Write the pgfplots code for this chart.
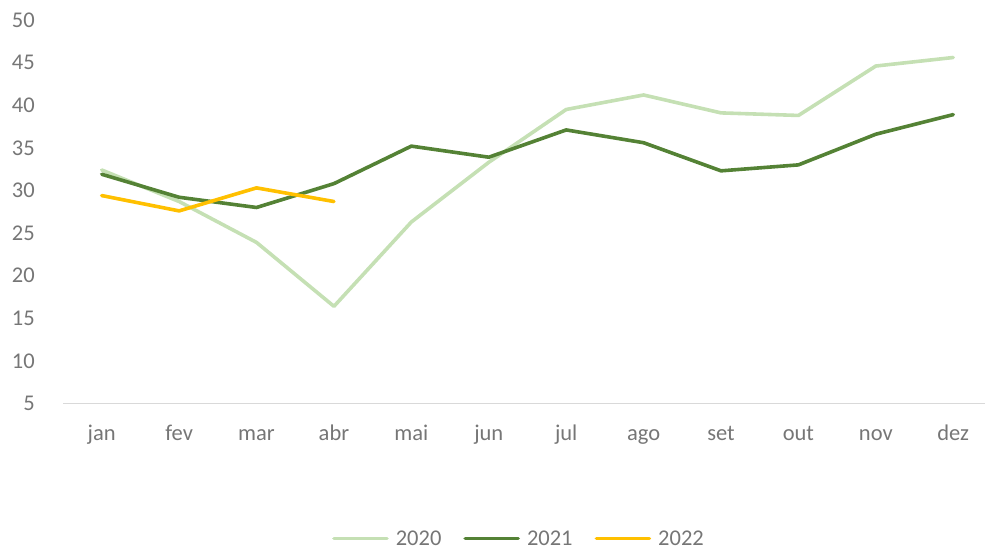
\documentclass[border=0pt]{standalone}
\usepackage{pgfplots}
\pgfplotsset{compat=1.18}
\usepackage{fontspec}
\setmainfont{Carlito}
\definecolor{c2020}{RGB}{197,224,180}
\definecolor{c2021}{RGB}{84,130,53}
\definecolor{c2022}{RGB}{255,192,0}
\definecolor{txt}{RGB}{118,118,118}
\definecolor{axl}{RGB}{217,217,217}
\begin{document}
\fontsize{22.5bp}{27bp}\selectfont
\begin{tikzpicture}
\path[use as bounding box] (0,0) rectangle (985bp,551bp);
\begin{axis}[
  at={(63bp,147.5bp)}, anchor=south west,
  scale only axis, width=922bp, height=383.5bp,
  xmin=-0.5, xmax=11.41, ymin=5, ymax=50,
  axis line style={draw=none},
  axis x line*=bottom, axis y line*=left,
  xtick={0,...,11},
  xticklabels={jan,fev,mar,abr,mai,jun,jul,ago,set,out,nov,dez},
  ytick={5,10,...,50},
  major tick length=0pt,
  tick style={draw=none},
  /pgf/number format/assume math mode=true,
  ticklabel style={font=\fontsize{22.5bp}{27bp}\selectfont, text=txt},
  yticklabel style={anchor=east, inner sep=0pt, xshift=-28bp},
  xticklabel style={anchor=base, inner sep=0pt, yshift=-37.2bp},
  legend columns=3,
  legend style={at={(axis description cs:0.4935,-0.352)}, anchor=center, draw=none, fill=none,
    font=\fontsize{22.5bp}{27bp}\selectfont, text=txt,
    nodes={inner sep=0pt, text depth=0pt},
    /tikz/every odd column/.append style={column sep=7bp},
    /tikz/every even column/.append style={column sep=22bp},
    inner sep=0pt},
  legend image code/.code={\draw[#1, line width=3.6bp, line cap=round] (0bp,0bp) -- (53bp,0bp);},
  every axis plot/.append style={line width=3.6bp, line join=round, line cap=round},
  clip=false,
]
\draw[axl, line width=1.5bp] (axis cs:-0.5,5) -- (axis cs:11.41,5);
\addplot[c2020] coordinates {(0,32.4)(1,28.7)(2,23.9)(3,16.4)(4,26.3)(5,33.3)(6,39.5)(7,41.2)(8,39.1)(9,38.8)(10,44.6)(11,45.6)};
\addlegendentry{2020}
\addplot[c2021] coordinates {(0,31.9)(1,29.2)(2,28.0)(3,30.8)(4,35.2)(5,33.9)(6,37.1)(7,35.6)(8,32.3)(9,33.0)(10,36.6)(11,38.9)};
\addlegendentry{2021}
\addplot[c2022] coordinates {(0,29.4)(1,27.6)(2,30.3)(3,28.7)};
\addlegendentry{2022}
\end{axis}
\end{tikzpicture}
\end{document}
